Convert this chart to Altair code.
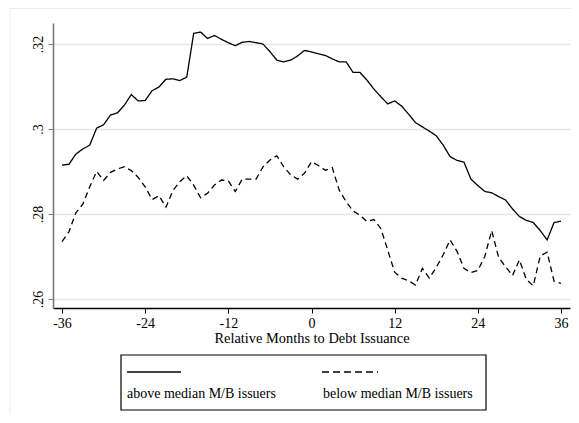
import altair as alt
import pandas as pd

months = list(range(-36, 37))

above = [0.2915, 0.2917, 0.2941, 0.2953, 0.2962, 0.3002, 0.3010, 0.3033, 0.3038, 0.3056,
         0.3081, 0.3066, 0.3067, 0.3090, 0.3099,
         0.3117, 0.3118, 0.3114, 0.3122,
         0.3225, 0.3228, 0.3213, 0.3220, 0.3211,
         0.3203, 0.3196, 0.3204, 0.3206, 0.3203,
         0.3200, 0.3182, 0.3162, 0.3158, 0.3162,
         0.3172, 0.3185,
         0.3181, 0.3177, 0.3173, 0.3165, 0.3158, 0.3158,
         0.3133, 0.3133, 0.3115, 0.3094, 0.3076, 0.3059,
         0.3066, 0.3054, 0.3035, 0.3015, 0.3005, 0.2995,
         0.2984, 0.2962, 0.2935, 0.2926, 0.2922, 0.2882,
         0.2867, 0.2853, 0.2850, 0.2841, 0.2833, 0.2812,
         0.2794, 0.2785, 0.2780, 0.2761, 0.2739, 0.2780, 0.2783]

below = [0.2735, 0.2758, 0.2803, 0.2823, 0.2864, 0.2900, 0.2879, 0.2898, 0.2906, 0.2911,
         0.2902, 0.2886, 0.2864, 0.2834, 0.2843,
         0.2816, 0.2855, 0.2876, 0.2890,
         0.2868, 0.2838, 0.2849, 0.2868, 0.2880,
         0.2878, 0.2853, 0.2882, 0.2882, 0.2882,
         0.2911, 0.2927, 0.2937, 0.2911, 0.2892,
         0.2882, 0.2896,
         0.2923, 0.2914, 0.2903, 0.2909, 0.2856, 0.2829,
         0.2807, 0.2797, 0.2782, 0.2787, 0.2766, 0.2715,
         0.2663, 0.2649, 0.2643, 0.2633, 0.2672, 0.2649,
         0.2674, 0.2704, 0.2739, 0.2712, 0.2672, 0.2662,
         0.2667, 0.2700, 0.2761, 0.2698, 0.2676, 0.2655,
         0.2692, 0.2646, 0.2631, 0.2701, 0.2710, 0.2642, 0.2637]

series_names = ["above median M/B issuers", "below median M/B issuers"]
x_ticks = [-36, -24, -12, 0, 12, 24, 36]
y_ticks = [0.26, 0.28, 0.30, 0.32]
x_title = "Relative Months to Debt Issuance"

df = pd.DataFrame({
    "month": months + months,
    "value": above + below,
    "series": [series_names[0]] * len(months) + [series_names[1]] * len(months),
})

FONT = "Liberation Serif"
W, H = 517, 285

lines = alt.Chart(df).mark_line(color="black", strokeWidth=1.3).encode(
    x=alt.X("month:Q",
            scale=alt.Scale(domain=[-37.3, 37.3], nice=False, zero=False),
            axis=alt.Axis(values=x_ticks, title=x_title, grid=False,
                          labelExpr="'' + datum.value",
                          domainColor="black", domainWidth=1.4,
                          tickColor="black", tickSize=5, tickWidth=1,
                          labelFont=FONT, labelFontSize=14, labelColor="black",
                          labelPadding=3,
                          titleFont=FONT, titleFontSize=14.4, titleFontWeight="normal",
                          titleColor="black", titlePadding=1)),
    y=alt.Y("value:Q",
            scale=alt.Scale(domain=[0.25788, 0.32494], nice=False, zero=False),
            axis=alt.Axis(values=y_ticks, title=None, grid=True,
                          gridColor="#e6e6e6", gridWidth=1.5,
                          domainColor="#7a7a7a", domainWidth=1.6,
                          tickColor="#7a7a7a", tickSize=5, tickWidth=1,
                          labelExpr="substring(format(datum.value, '.2~f'), 1)",
                          labelAngle=270, labelAlign="center", labelBaseline="bottom",
                          labelFont=FONT, labelFontSize=14, labelColor="black",
                          labelPadding=3)),
    strokeDash=alt.StrokeDash("series:N",
                              scale=alt.Scale(domain=series_names, range=[[1, 0], [6, 4]]),
                              legend=None),
    detail="series:N",
)

one = pd.DataFrame({"a": [0]})

# outer graph-region border (faint)
border_left = alt.Chart(one).mark_rule(color="#ececec", strokeWidth=1).encode(
    x=alt.value(-43), y=alt.value(-15), y2=alt.value(392))
border_top = alt.Chart(one).mark_rule(color="#ececec", strokeWidth=1).encode(
    x=alt.value(-43), x2=alt.value(520), y=alt.value(-14.5))

# legend box
leg_box = alt.Chart(one).mark_rect(fill="white", stroke="black", strokeWidth=1.2).encode(
    x=alt.value(68), x2=alt.value(433), y=alt.value(332), y2=alt.value(387))
leg_solid = alt.Chart(one).mark_rule(color="black", strokeWidth=1.3).encode(
    x=alt.value(74), x2=alt.value(128), y=alt.value(349))
leg_dash = alt.Chart(one).mark_rule(color="black", strokeWidth=1.3, strokeDash=[7, 4]).encode(
    x=alt.value(269), x2=alt.value(325), y=alt.value(349))
leg_t1 = alt.Chart(one).mark_text(font=FONT, fontSize=14, align="left", baseline="middle",
                                  color="black").encode(
    x=alt.value(74), y=alt.value(371), text=alt.value(series_names[0]))
leg_t2 = alt.Chart(one).mark_text(font=FONT, fontSize=14, align="left", baseline="middle",
                                  color="black").encode(
    x=alt.value(270), y=alt.value(371), text=alt.value(series_names[1]))

chart = alt.layer(
    lines, border_left, border_top, leg_box, leg_solid, leg_dash, leg_t1, leg_t2
).properties(
    width=W, height=H,
    autosize=alt.AutoSizeParams(type="none"),
    padding={"left": 45, "top": 15, "right": 1, "bottom": 106},
    background="white",
).configure_view(stroke=None)

chart.save("out.html", embed_options={"renderer": "svg", "actions": False})
